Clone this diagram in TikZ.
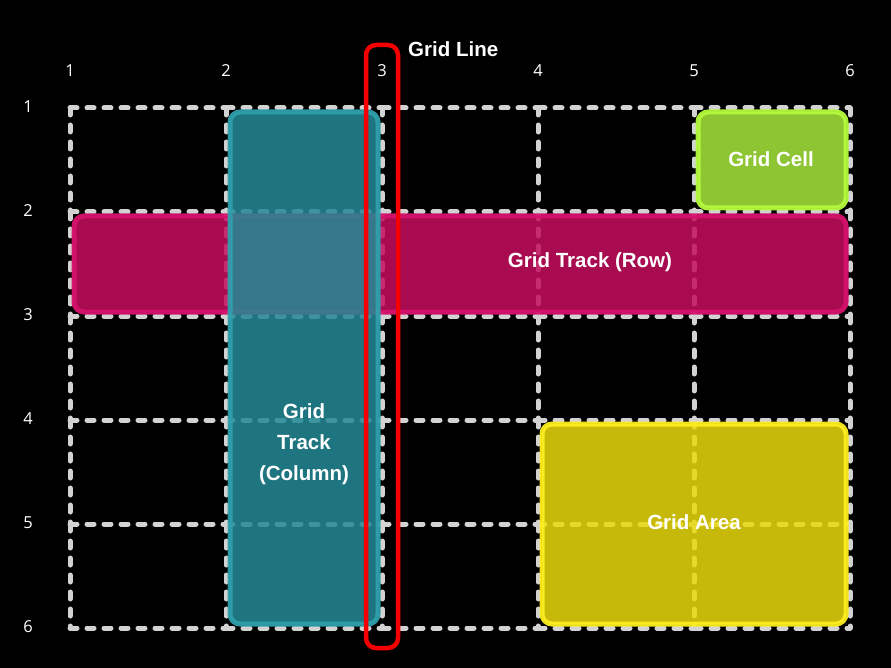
\documentclass[tikz,border=0pt]{standalone}
\usepackage{fontspec}
\setmainfont{Liberation Sans}
\newfontfamily\numfont{Open Sans}
\begin{document}
\begin{tikzpicture}[x=1pt,y=-1pt,
  gridline/.style={draw={rgb,255:red,210;green,210;blue,210},line width=5pt,dash pattern=on 7pt off 10pt,line cap=round},
  boxstyle/.style={line width=5pt,rounded corners=10pt,fill opacity=0.85,draw opacity=0.95},
  numlbl/.style={text=white,font=\numfont\fontsize{16.5}{18}\selectfont,inner sep=0pt},
  boxlbl/.style={text=white,font=\bfseries\fontsize{20.5}{31}\selectfont,align=center,inner sep=0pt}]
\definecolor{tealfill}{RGB}{36,138,151}
\definecolor{tealline}{RGB}{48,160,172}
\definecolor{pinkfill}{RGB}{198,14,94}
\definecolor{pinkline}{RGB}{214,18,110}
\definecolor{greenfill}{RGB}{166,233,59}
\definecolor{greenline}{RGB}{182,250,62}
\definecolor{yellowfill}{RGB}{235,218,12}
\definecolor{yellowline}{RGB}{252,238,30}
\definecolor{hired}{RGB}{245,0,0}
\fill[black] (0,0) rectangle (891,668);
\useasboundingbox (0,0) rectangle (891,668);
% grid
\foreach \c in {0,...,4} {
  \foreach \r in {0,...,5} {
    \draw[gridline] ({70+156*\c},{108+104*\r}) -- ({70+156*(\c+1)},{108+104*\r});
  }
}
\foreach \c in {0,...,5} {
  \foreach \r in {0,...,4} {
    \draw[gridline] ({70+156*\c},{108+104*\r}) -- ({70+156*\c},{108+104*(\r+1)});
  }
}
% shapes
\draw[boxstyle,draw=pinkline,fill=pinkfill] (74,216) rectangle (846,312);
\draw[boxstyle,draw=tealline,fill=tealfill] (230,112) rectangle (378,624);
\draw[boxstyle,draw=greenline,fill=greenfill] (698,112) rectangle (846,208);
\draw[boxstyle,draw=yellowline,fill=yellowfill] (542,424) rectangle (846,624);
\draw[hired,line width=4.5pt,rounded corners=10pt] (366,45) rectangle (398,648);
% labels
\node[boxlbl] (cell) at (771,159) {Grid Cell};
\node[boxlbl] (row) at (590,262) {Grid Track (Row)};
\node[boxlbl] (col) at (304,444) {Grid\\Track\\(Column)};
\node[boxlbl] (area) at (694,522) {Grid Area};
\node[boxlbl,anchor=west] (gl) at (408,49) {Grid Line};
% numbers
\foreach \i [count=\n] in {0,...,5} {
  \node[numlbl] (c\n) at ({70+156*\i},71) {\n};
  \node[numlbl] (r\n) at (28,{107+104*\i}) {\n};
}
\end{tikzpicture}
\end{document}
